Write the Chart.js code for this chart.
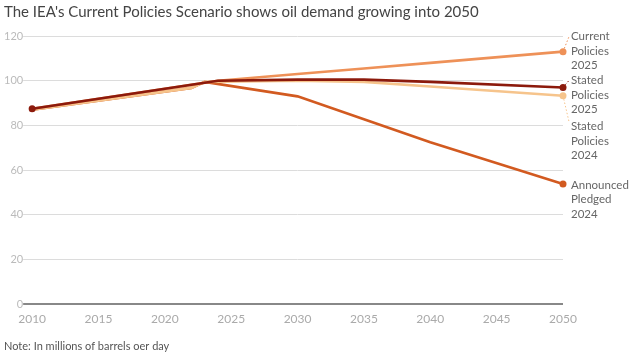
<!DOCTYPE html>
<html>
<head>
<meta charset="utf-8">
<script src="https://cdn.jsdelivr.net/npm/chart.js@4.4.0/dist/chart.umd.min.js"></script>
<style>
  html, body { margin: 0; padding: 0; background: #fff; }
  #wrap { width: 630px; height: 355px; position: relative; }
</style>
</head>
<body>
<div id="wrap"><canvas id="c" width="630" height="355"></canvas></div>
<script>
// ---- Data ----
const years2025 = [2010, 2024, 2030, 2035, 2040, 2050];
const stated2025 = [87.5, 100, 100.5, 100.5, 99.5, 97];
const current2025 = [87.5, 100, 103, 105.5, 108, 113];
const years2024 = [2010, 2022, 2023, 2030, 2035, 2040, 2050];
const stated2024 = [87, 96.8, 99.5, 100, 99.5, 97.4, 93.3];
const announced2024 = [87, 96.8, 99.5, 93, 82.8, 72.5, 53.8];
const yTicks = [0, 20, 40, 60, 80, 100, 120];
const xTicks = [2010, 2015, 2020, 2025, 2030, 2035, 2040, 2045, 2050];
const seriesNames = [
  ['Stated', 'Policies', '2025'],
  ['Current', 'Policies', '2025'],
  ['Stated', 'Policies', '2024'],
  ['Announced', 'Pledged', '2024']
];
const titleText = "The IEA's Current Policies Scenario shows oil demand growing into 2050";
const noteText = "Note: In millions of barrels oer day";

// ---- Styles ----
const FONT = "Lato, 'Open Sans', sans-serif";
const colors = ['#8c1a0c', '#ee9158', '#f6c48c', '#d25a20'];
// label offsets (px) relative to the series end point: [dx, dy of first line], with leader line flag
const labelStyle = [
  { dx: 8, dy: -7, leader: true },
  { dx: 8, dy: -15, leader: true },
  { dx: 8, dy: 31, leader: true },
  { dx: 8, dy: 1, leader: false }
];

function pts(xs, ys) { return xs.map((x, i) => ({ x: x, y: ys[i] })); }

const datasets = [
  { data: pts(years2025, stated2025), borderColor: colors[0], backgroundColor: colors[0], startDot: true },
  { data: pts(years2025, current2025), borderColor: colors[1], backgroundColor: colors[1] },
  { data: pts(years2024, stated2024), borderColor: colors[2], backgroundColor: colors[2] },
  { data: pts(years2024, announced2024), borderColor: colors[3], backgroundColor: colors[3] }
].map(d => Object.assign(d, {
  borderWidth: 2.6,
  tension: 0,
  clip: false,
  pointRadius: ctx => (ctx.dataIndex === ctx.dataset.data.length - 1 || (ctx.dataset.startDot && ctx.dataIndex === 0)) ? 3.5 : 0,
  pointHoverRadius: 0,
  pointBorderWidth: 0
}));

const endLabels = {
  id: 'endLabels',
  afterDatasetsDraw(chart) {
    const ctx = chart.ctx;
    ctx.save();
    ctx.font = "11.5px " + FONT;
    ctx.fillStyle = '#666';
    ctx.textBaseline = 'middle';
    ctx.textAlign = 'left';
    chart.data.datasets.forEach((ds, i) => {
      const meta = chart.getDatasetMeta(i);
      const p = meta.data[meta.data.length - 1];
      const st = labelStyle[i];
      const lx = p.x + st.dx, ly = p.y + st.dy;
      if (st.leader) {
        ctx.save();
        ctx.strokeStyle = ds.borderColor;
        ctx.lineWidth = 1;
        ctx.setLineDash([1.5, 2]);
        ctx.beginPath();
        ctx.moveTo(p.x, p.y);
        ctx.lineTo(lx - 2, ly + (st.dy < 0 ? 0 : -5));
        ctx.stroke();
        ctx.restore();
      }
      seriesNames[i].forEach((t, k) => ctx.fillText(t, lx, ly + k * 14.5));
    });
    ctx.restore();
  }
};

new Chart(document.getElementById('c'), {
  type: 'line',
  data: { datasets: datasets },
  plugins: [endLabels],
  options: {
    responsive: false,
    animation: false,
    events: [],
    layout: { padding: { left: 4, right: 67, top: 0, bottom: 0 } },
    plugins: {
      legend: { display: false },
      tooltip: { enabled: false },
      title: {
        display: true, text: titleText, align: 'start', color: '#444',
        font: { family: FONT, size: 15, weight: 'normal' },
        padding: { top: 3, bottom: 15 }
      },
      subtitle: {
        display: true, text: noteText, align: 'start', position: 'bottom', color: '#555',
        font: { family: FONT, size: 11, weight: 'normal' },
        padding: { top: 13, bottom: 2 }
      }
    },
    scales: {
      x: {
        type: 'linear', min: 2010, max: 2050,
        afterBuildTicks: s => { s.ticks = xTicks.map(v => ({ value: v })); },
        grid: { display: false },
        border: { display: false },
        ticks: { color: '#aaa', font: { family: FONT, size: 12 }, padding: 0, maxRotation: 0, callback: v => String(v) }
      },
      y: {
        min: 0, max: 120,
        afterBuildTicks: s => { s.ticks = yTicks.map(v => ({ value: v })); },
        border: { display: false },
        grid: {
          color: c => c.tick && c.tick.value === 0 ? '#888' : '#dcdcdc',
          lineWidth: c => c.tick && c.tick.value === 0 ? 2 : 1,
          tickLength: 9
        },
        ticks: { color: '#bbb', font: { family: FONT, size: 11 }, padding: 0 }
      }
    }
  }
});
</script>
</body>
</html>
